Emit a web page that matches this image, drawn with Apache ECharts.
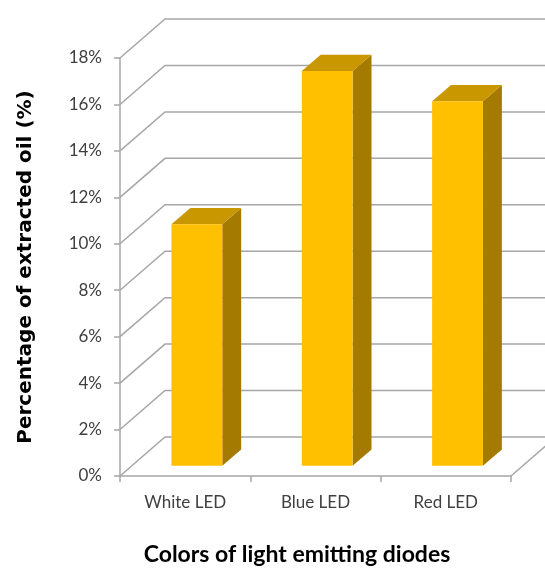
<!DOCTYPE html>
<html>
<head>
<meta charset="utf-8">
<script src="https://cdn.jsdelivr.net/npm/echarts@6/dist/echarts.min.js"></script>
<style>
  html, body { margin: 0; padding: 0; background: #fff; }
  #chart { width: 545px; height: 571px; }
</style>
</head>
<body>
<div id="chart"></div>
<script>
// Extracted oil yield under different LED light colours
const categories = ['White LED', 'Blue LED', 'Red LED'];
const oilPercent = [10.4, 17.0, 15.7];
const yTickValues = [0, 2, 4, 6, 8, 10, 12, 14, 16, 18];

// oblique depth of the floor / back wall
const WALL_DX = 45;
const WALL_DY = -39;
// bar placement inside the depth (fractions of the wall depth)
const BAR_FRONT = 0.26;
const BAR_DEPTH = 0.42;
const BAR_WIDTH = 0.39;

const GRID_COLOR = '#A6A6A6';

const chart = echarts.init(document.getElementById('chart'), null, { renderer: 'canvas' });

function gridRender(params, api) {
  const cs = params.coordSys;
  const v = api.value(1);
  const y = api.coord([0, v])[1];
  const x0 = cs.x;
  const children = [{
    type: 'polyline',
    shape: { points: [[x0, y], [x0 + WALL_DX, y + WALL_DY], [x0 + cs.width + WALL_DX + 60, y + WALL_DY]] },
    style: { stroke: GRID_COLOR, lineWidth: 1.5, fill: null }
  }];
  if (v === 0) {
    const xr = cs.x + cs.width;
    children.push({
      type: 'line',
      shape: { x1: xr, y1: y, x2: xr + WALL_DX, y2: y + WALL_DY },
      style: { stroke: GRID_COLOR, lineWidth: 1.5 }
    });
  }
  return { type: 'group', children: children };
}

function barRender(params, api) {
  const idx = api.value(0);
  const val = api.value(1);
  const base = api.coord([idx, 0]);
  const top = api.coord([idx, val]);
  const band = api.size([1, 0])[0];
  const w = band * BAR_WIDTH;
  const fx = WALL_DX * BAR_FRONT, fy = WALL_DY * BAR_FRONT;
  const ddx = WALL_DX * BAR_DEPTH, ddy = WALL_DY * BAR_DEPTH;
  const cx = base[0] + fx;
  const xl = cx - w / 2, xr = cx + w / 2;
  const yb = base[1] + fy, yt = top[1] + fy;
  return {
    type: 'group',
    children: [
      {
        type: 'polygon',
        shape: { points: [[xr, yt], [xr + ddx, yt + ddy], [xr + ddx, yb + ddy], [xr, yb]] },
        style: { fill: '#A47A00' }
      },
      {
        type: 'polygon',
        shape: { points: [[xl, yt], [xr, yt], [xr + ddx, yt + ddy], [xl + ddx, yt + ddy]] },
        style: { fill: '#C99700' }
      },
      {
        type: 'rect',
        shape: { x: xl, y: yt, width: w, height: yb - yt },
        style: { fill: '#FFC000' }
      }
    ]
  };
}

const option = {
  backgroundColor: '#ffffff',
  animation: false,
  grid: { left: 120, top: 58, width: 391, height: 425, containLabel: false },
  xAxis: {
    type: 'category',
    data: categories,
    boundaryGap: true,
    name: 'Colors of light emitting diodes',
    nameLocation: 'middle',
    nameGap: 67,
    nameTextStyle: {
      fontFamily: 'Lato', fontWeight: 'bold', fontSize: 23, color: '#000',
      padding: [0, 37, 0, 0]
    },
    axisLine: { show: true, lineStyle: { color: GRID_COLOR, width: 1.5 } },
    axisTick: { show: true, length: 6, alignWithLabel: false, lineStyle: { color: GRID_COLOR, width: 1.5 } },
    axisLabel: {
      interval: 0,
      margin: 18,
      color: '#404040',
      fontFamily: 'Lato',
      fontSize: 17
    },
    splitLine: { show: false }
  },
  yAxis: {
    type: 'value',
    min: 0,
    max: 18,
    interval: 2,
    name: 'Percentage of extracted oil (%)',
    nameLocation: 'middle',
    nameGap: 84,
    nameRotate: 90,
    nameTextStyle: { fontFamily: 'DejaVu Sans', fontWeight: 'bold', fontSize: 20, color: '#000' },
    axisLine: { show: true, lineStyle: { color: GRID_COLOR, width: 1.5 } },
    axisTick: { show: true, length: 6, lineStyle: { color: GRID_COLOR, width: 1.5 } },
    axisLabel: {
      margin: 18,
      color: '#404040',
      fontFamily: 'Lato',
      fontSize: 17,
      formatter: '{value}%'
    },
    splitLine: { show: false }
  },
  series: [
    {
      type: 'custom',
      name: 'grid',
      z: 1,
      silent: true,
      renderItem: gridRender,
      data: yTickValues.map(function (v) { return [0, v]; })
    },
    {
      type: 'custom',
      name: 'Extracted oil',
      z: 3,
      renderItem: barRender,
      data: oilPercent.map(function (v, i) { return [i, v]; })
    }
  ]
};

chart.setOption(option);
</script>
</body>
</html>
